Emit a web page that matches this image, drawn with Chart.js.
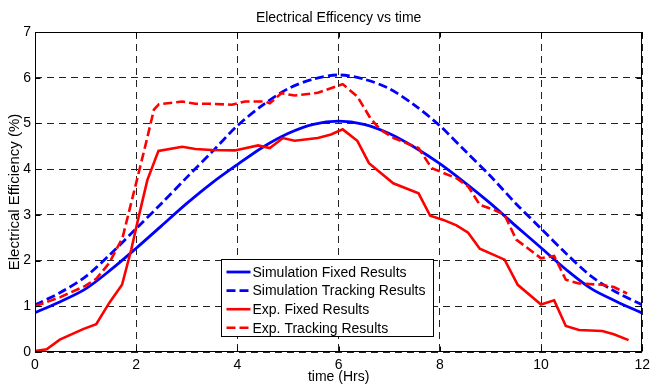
<!DOCTYPE html>
<html>
<head>
<meta charset="utf-8">
<title>Electrical Efficency vs time</title>
<script src="https://cdn.jsdelivr.net/npm/chart.js@4.4.1/dist/chart.umd.min.js"></script>
<style>
  html, body { margin: 0; padding: 0; background: #fff; }
  #chart { display: block; }
</style>
</head>
<body>
<canvas id="chart" width="655" height="387"></canvas>
<script>
// axis ticks
const xTicks = [0, 2, 4, 6, 8, 10, 12];
const yTicks = [0, 1, 2, 3, 4, 5, 6, 7];

// simulation curves (every half hour)
const simHours = [0, 0.5, 1, 1.5, 2, 2.5, 3, 3.5, 4, 4.5, 5, 5.5, 6,
                  6.5, 7, 7.5, 8, 8.5, 9, 9.5, 10, 10.5, 11, 11.5, 12];
const simFixed = [0.86, 1.1, 1.38, 1.8, 2.27, 2.76, 3.25, 3.7, 4.1, 4.48, 4.78, 4.98, 5.05,
                  4.98, 4.78, 4.48, 4.12, 3.7, 3.25, 2.76, 2.28, 1.8, 1.38, 1.1, 0.85];
const simTracking = [1.03, 1.3, 1.65, 2.15, 2.7, 3.25, 3.82, 4.38, 4.95, 5.4, 5.76, 5.97, 6.06,
                     5.97, 5.76, 5.4, 4.95, 4.4, 3.85, 3.25, 2.7, 2.15, 1.65, 1.3, 1.03];

// experimental results
const expFixedHours = [0, 0.23, 0.49, 0.95, 1.21, 1.47, 1.72, 1.9, 2.06, 2.22,
                       2.44, 2.91, 3.17, 3.5, 3.95, 4.41, 4.64, 4.9, 5.13, 5.59,
                       5.85, 6.08, 6.37, 6.6, 7.08, 7.58, 7.81, 8.07, 8.33, 8.56,
                       8.79, 9.28, 9.54, 10.0, 10.26, 10.49, 10.75, 11.21, 11.44, 11.73];
const expFixed = [0.02, 0.06, 0.27, 0.5, 0.61, 1.08, 1.47, 2.23, 3.01, 3.76,
                  4.4, 4.49, 4.44, 4.42, 4.41, 4.52, 4.46, 4.68, 4.62, 4.68,
                  4.76, 4.87, 4.62, 4.13, 3.69, 3.47, 2.98, 2.89, 2.77, 2.61,
                  2.26, 2.02, 1.47, 1.04, 1.13, 0.57, 0.48, 0.46, 0.39, 0.26];

const expTrackingHours = [0, 0.5, 1.0, 1.21, 1.47, 1.73, 2.0, 2.2, 2.35, 2.45,
                          2.91, 3.17, 3.43, 3.89, 4.15, 4.54, 4.64, 4.87, 5.13, 5.59,
                          6.08, 6.37, 6.63, 6.83, 7.09, 7.58, 7.84, 8.0, 8.33, 8.56,
                          8.79, 9.05, 9.28, 9.51, 10.0, 10.26, 10.49, 10.75, 11.21, 11.44, 11.7];
const expTracking = [1.0, 1.2, 1.45, 1.6, 1.95, 2.5, 3.7, 4.6, 5.3, 5.42,
                     5.48, 5.43, 5.43, 5.41, 5.48, 5.48, 5.44, 5.66, 5.61, 5.67,
                     5.86, 5.59, 5.11, 4.86, 4.68, 4.46, 4.02, 3.95, 3.8, 3.62,
                     3.22, 3.12, 3.0, 2.46, 2.05, 2.1, 1.58, 1.5, 1.47, 1.42, 1.28];

const seriesLabels = ["Simulation Fixed Results", "Simulation Tracking Results",
                      "Exp. Fixed Results", "Exp. Tracking Results"];

const FONT = "'Liberation Sans', Arial, sans-serif";
Chart.defaults.font.family = FONT;
Chart.defaults.font.size = 14;
Chart.defaults.color = "#000";

function toPoints(xs, ys) {
    return xs.map((x, i) => ({ x: x, y: ys[i] }));
}

// box round the plot, inward tick marks and the legend box
const frameAndLegend = {
    id: "frameAndLegend",
    afterDraw(chart) {
        const { ctx, chartArea: a, scales } = chart;
        const L = Math.round(a.left) + 0.5, R = Math.round(a.right) - 0.5;
        const T = Math.round(a.top) + 0.5, B = Math.round(a.bottom) - 0.5;
        ctx.save();
        ctx.strokeStyle = "#000";
        ctx.lineWidth = 1;
        ctx.setLineDash([]);
        ctx.strokeRect(L, T, R - L, B - T);

        ctx.beginPath();
        xTicks.forEach(v => {
            const px = Math.round(scales.x.getPixelForValue(v)) + 0.5;
            ctx.moveTo(px, B); ctx.lineTo(px, B - 5);
            ctx.moveTo(px, T); ctx.lineTo(px, T + 5);
        });
        yTicks.forEach(v => {
            const py = Math.round(scales.y.getPixelForValue(v)) + 0.5;
            ctx.moveTo(L, py); ctx.lineTo(L + 5, py);
            ctx.moveTo(R, py); ctx.lineTo(R - 5, py);
        });
        ctx.stroke();

        // legend
        const box = { x: 221.5, y: 259.5, w: 212, h: 77 };
        ctx.fillStyle = "#fff";
        ctx.fillRect(box.x, box.y, box.w, box.h);
        ctx.strokeRect(box.x, box.y, box.w, box.h);
        ctx.font = "14px " + FONT;
        ctx.textBaseline = "middle";
        ctx.textAlign = "left";
        chart.data.datasets.forEach((ds, i) => {
            const rowY = box.y + 12.5 + i * 18.6;
            ctx.strokeStyle = ds.borderColor;
            ctx.lineWidth = ds.borderWidth;
            ctx.setLineDash(ds.borderDash || []);
            ctx.beginPath();
            ctx.moveTo(box.x + 5, rowY);
            ctx.lineTo(box.x + 29, rowY);
            ctx.stroke();
            ctx.fillStyle = "#000";
            ctx.fillText(ds.label, box.x + 31, rowY + 1);
        });
        ctx.restore();
    }
};

const chart = new Chart(document.getElementById("chart").getContext("2d"), {
    type: "line",
    data: {
        datasets: [
            {
                label: seriesLabels[0],
                data: toPoints(simHours, simFixed),
                borderColor: "#0000ff",
                borderWidth: 2.8,
                tension: 0.3,
                order: 4
            },
            {
                label: seriesLabels[1],
                data: toPoints(simHours, simTracking),
                borderColor: "#0000ff",
                borderWidth: 2.8,
                borderDash: [9, 4],
                tension: 0.3,
                order: 3
            },
            {
                label: seriesLabels[2],
                data: toPoints(expFixedHours, expFixed),
                borderColor: "#ff0000",
                borderWidth: 2.6,
                tension: 0,
                order: 2
            },
            {
                label: seriesLabels[3],
                data: toPoints(expTrackingHours, expTracking),
                borderColor: "#ff0000",
                borderWidth: 2.6,
                borderDash: [9, 4],
                tension: 0,
                order: 1
            }
        ]
    },
    options: {
        responsive: false,
        animation: false,
        devicePixelRatio: 1,
        layout: { padding: { left: 0, right: 8, top: 0, bottom: 0 } },
        elements: { point: { radius: 0 } },
        plugins: {
            legend: { display: false },
            tooltip: { enabled: false },
            title: {
                display: true,
                text: "Electrical Efficency vs time",
                fullSize: false,
                color: "#000",
                font: { size: 14, weight: "normal" },
                padding: { top: 10, bottom: 5.2 }
            }
        },
        scales: {
            x: {
                type: "linear",
                min: 0,
                max: 12,
                afterFit: (scale) => { scale.height = 35; },
                afterBuildTicks: (scale) => { scale.ticks = xTicks.map(v => ({ value: v })); },
                ticks: { padding: 5, maxRotation: 0 },
                grid: { color: "#222", lineWidth: 1, drawTicks: false },
                border: { display: false, dash: [7, 5] },
                title: { display: true, text: "time (Hrs)", padding: { top: 0, bottom: 1 } }
            },
            y: {
                min: 0,
                max: 7,
                afterFit: (scale) => { scale.width = 35; },
                afterBuildTicks: (scale) => { scale.ticks = yTicks.map(v => ({ value: v })); },
                ticks: { padding: 4 },
                grid: { color: "#222", lineWidth: 1, drawTicks: false },
                border: { display: false, dash: [7, 5] },
                title: { display: true, text: "Electrical Efficiency (%)", font: { size: 15 }, padding: { top: 6, bottom: 0 } }
            }
        }
    },
    plugins: [frameAndLegend]
});
</script>
</body>
</html>
